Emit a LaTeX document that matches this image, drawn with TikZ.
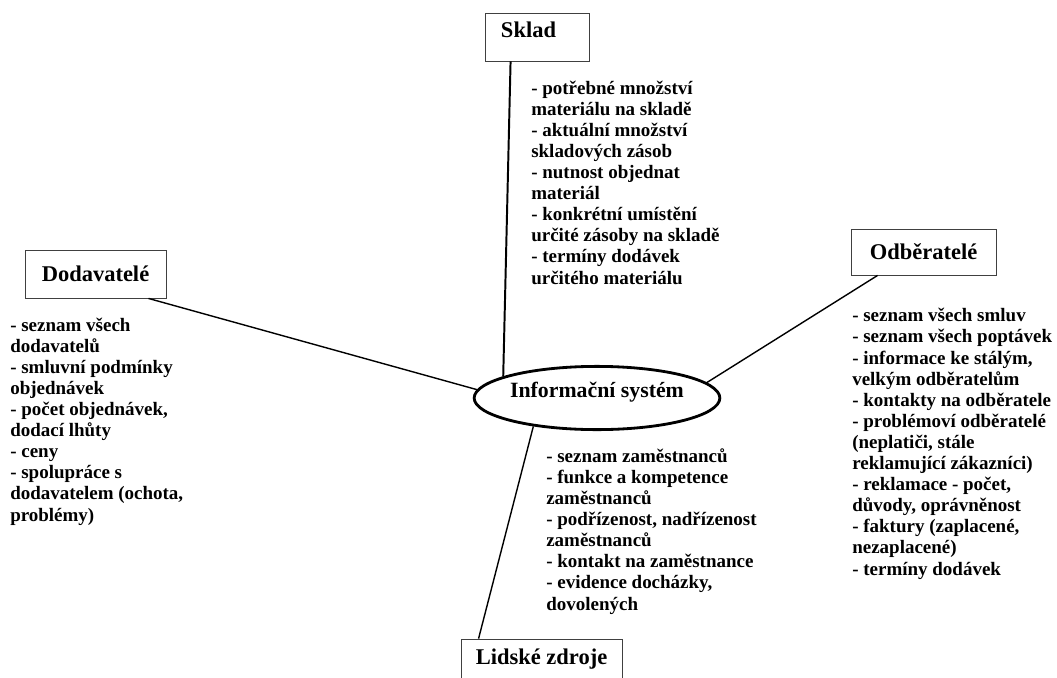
\documentclass[tikz,border=0pt]{standalone}
\usepackage{fontspec}
\setmainfont{Liberation Serif}
\usetikzlibrary{shapes.geometric}

\begin{document}
\begin{tikzpicture}[x=0.025cm,y=-0.025cm,
  hdr/.style={draw=black!75,line width=0.6pt,inner sep=0pt,font=\fontsize{16}{18}\selectfont\bfseries},
  items/.style={anchor=base west,align=left,inner sep=0pt,font=\fontsize{13.5}{15}\selectfont\bfseries},
  link/.style={line width=1pt}]
  \useasboundingbox (0,0) rectangle (1057,677);
  \node[draw,ellipse,line width=2pt,minimum width=5.63cm,minimum height=1.58cm,inner sep=0pt,
    text depth=11pt,font=\fontsize{15.5}{18}\selectfont\bfseries] (is) at (597,398) {Informační systém};
  \node[hdr,minimum width=2.6cm,minimum height=1.2cm,text depth=10pt,text width=1.8cm,align=left] (sklad) at (537,37) {Sklad};
  \node[hdr,minimum width=3.525cm,minimum height=1.2cm] (dodavatele) at (95.5,274) {Dodavatelé};
  \node[hdr,minimum width=3.625cm,minimum height=1.15cm] (odberatele) at (923.5,252) {Odběratelé};
  \node[hdr,minimum width=4.025cm,minimum height=1cm] (zdroje) at (541.5,659) {Lidské zdroje};
  \draw[link,line width=1.4pt] ([xshift=0.65cm]sklad.south west) -- (is.167);
  \draw[link] ([xshift=-0.45cm]dodavatele.south east) -- (is.176);
  \draw[link] ([xshift=0.675cm]odberatele.south west) -- (is.8);
  \draw[link] ([xshift=0.45cm]zdroje.north west) -- (is.204);
  \node[items] (skladinfo) at (531,284) {- potřebné množství\\materiálu na skladě\\-  aktuální množství\\skladových zásob\\- nutnost objednat\\materiál\\- konkrétní umístění\\určité zásoby na skladě\\- termíny dodávek\\určitého materiálu};
  \node[items] (dodinfo) at (10,521) {- seznam všech\\dodavatelů\\- smluvní podmínky\\objednávek\\- počet objednávek,\\dodací lhůty\\- ceny\\- spolupráce s\\dodavatelem (ochota,\\problémy)};
  \node[items] (odbinfo) at (852,575) {- seznam všech smluv\\- seznam všech poptávek\\- informace ke stálým,\\velkým odběratelům\\- kontakty na odběratele\\- problémoví odběratelé\\(neplatiči, stále\\reklamující zákazníci)\\- reklamace - počet,\\důvody, oprávněnost\\- faktury (zaplacené,\\nezaplacené)\\- termíny dodávek};
  \node[items] (zdrojeinfo) at (546,610) {- seznam zaměstnanců\\- funkce a kompetence\\zaměstnanců\\- podřízenost, nadřízenost\\zaměstnanců\\- kontakt na zaměstnance\\- evidence docházky,\\dovolených};
\end{tikzpicture}
\end{document}
